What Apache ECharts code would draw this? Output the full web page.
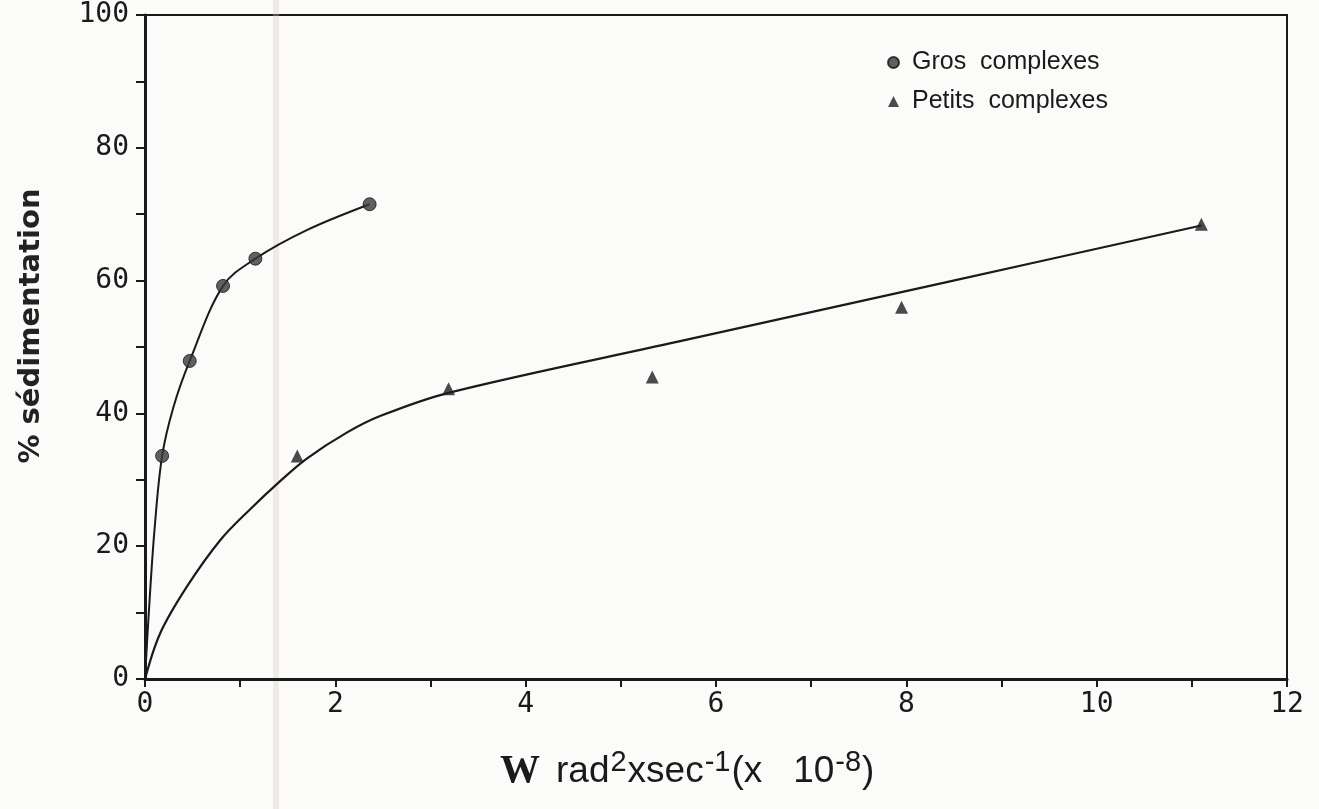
<!DOCTYPE html>
<html>
<head>
<meta charset="utf-8">
<title>% sédimentation</title>
<script src="https://cdn.jsdelivr.net/npm/echarts@6/dist/echarts.min.js"></script>
<style>
  html, body { margin: 0; padding: 0; background: #fbfbf9; }
  #chart { width: 1319px; height: 809px; }
</style>
</head>
<body>
<div id="chart"></div>
<script>
// Measured points: [W (x 10^-8 rad^2 s^-1), % sedimentation]
const grosPoints = [[0.18, 33.6], [0.47, 47.9], [0.82, 59.2], [1.16, 63.3], [2.36, 71.5]];
const petitsPoints = [[1.60, 33.6], [3.19, 43.7], [5.33, 45.5], [7.95, 56.0], [11.10, 68.5]];

// Hand-drawn fitted curves
const grosCurve = [[0, 0], [0.04, 10.0], [0.10, 22.5], [0.18, 33.6], [0.30, 41.0],
  [0.47, 47.9], [0.82, 59.2], [1.16, 63.3], [1.70, 67.6], [2.36, 71.5]];
const petitsCurve = [[0, 0], [0.16, 6.9], [0.44, 13.9], [0.79, 20.9], [1.10, 25.5], [1.42, 29.8],
  [1.70, 33.2], [2.12, 37.1], [2.47, 39.6], [3.19, 43.1], [5.60, 50.8], [8.40, 59.7], [11.10, 68.3]];

const xTicks = [0, 2, 4, 6, 8, 10, 12];
const yTicks = [0, 20, 40, 60, 80, 100];

const ink = '#1a1a1a';
const chart = echarts.init(document.getElementById('chart'), null, { renderer: 'canvas' });

chart.setOption({
  backgroundColor: '#fbfbf9',
  animation: false,
  grid: {
    left: 145, right: 32, top: 15, bottom: 130,
    show: true, borderColor: ink, borderWidth: 2, backgroundColor: 'transparent'
  },
  graphic: [
    {
      // faint vertical band across the sheet
      type: 'rect', silent: true, z: 0,
      shape: { x: 273, y: 0, width: 6, height: 809 },
      style: { fill: 'rgba(215,195,190,0.3)' }
    },
    {
      type: 'text', silent: true, z: 10,
      x: 31, y: 326, rotation: Math.PI / 2,
      style: {
        text: '% sédimentation', align: 'center', verticalAlign: 'middle',
        font: 'bold 29px "DejaVu Sans"', fill: '#222'
      }
    },
    {
      type: 'text', silent: true, z: 10,
      x: 500, y: 795,
      style: {
        text: '{w|W}{t|rad}{s|2}{t|xsec}{s|-1}{t|(x   10}{s|-8}{t|)}',
        verticalAlign: 'bottom',
        rich: {
          w: { fontFamily: 'Liberation Serif', fontWeight: 'bold', fontSize: 40, fill: ink, padding: [0, 16, 0, 0] },
          t: { fontFamily: 'Liberation Sans', fontSize: 37, fill: ink },
          s: { fontFamily: 'Liberation Sans', fontSize: 29, fill: ink, padding: [0, 1, 18, 1] }
        }
      }
    }
  ],
  legend: {
    orient: 'vertical', left: 882, top: 45, itemGap: 14,
    itemWidth: 11, itemHeight: 11,
    textStyle: { fontFamily: 'Liberation Sans', fontSize: 25, color: ink, padding: [0, 0, 0, 8] },
    formatter: name => name.replace(' ', '  '),
    data: [
      { name: 'Gros complexes', icon: 'circle' },
      { name: 'Petits complexes', icon: 'triangle' }
    ]
  },
  xAxis: {
    type: 'value', min: 0, max: 12, interval: 1,
    axisLine: { show: true, lineStyle: { color: ink, width: 3 } },
    axisTick: { show: true, inside: false, length: 8, lineStyle: { color: ink, width: 2 } },
    splitLine: { show: false },
    axisLabel: {
      margin: 12, color: ink, fontFamily: 'DejaVu Sans Mono', fontSize: 28,
      formatter: v => (xTicks.indexOf(v) >= 0 ? String(v) : '')
    }
  },
  yAxis: {
    type: 'value', min: 0, max: 100, interval: 10,
    axisLine: { show: true, lineStyle: { color: ink, width: 3 } },
    axisTick: { show: true, inside: false, length: 9, lineStyle: { color: ink, width: 2 } },
    splitLine: { show: false },
    axisLabel: {
      margin: 16, color: ink, fontFamily: 'DejaVu Sans Mono', fontSize: 28,
      formatter: v => (yTicks.indexOf(v) >= 0 ? String(v) : '')
    }
  },
  series: [
    {
      name: 'Gros complexes curve', type: 'line', data: grosCurve, smooth: 0.35,
      showSymbol: false, lineStyle: { color: ink, width: 2 }, z: 2, silent: true
    },
    {
      name: 'Petits complexes curve', type: 'line', data: petitsCurve, smooth: 0.35,
      showSymbol: false, lineStyle: { color: ink, width: 2.2 }, z: 2, silent: true
    },
    {
      name: 'Gros complexes', type: 'scatter', data: grosPoints, symbol: 'circle', symbolSize: 13,
      itemStyle: { color: '#3a3a3a', borderColor: '#111', borderWidth: 1 }, z: 3
    },
    {
      name: 'Petits complexes', type: 'scatter', data: petitsPoints, symbol: 'triangle', symbolSize: 13,
      itemStyle: { color: '#1e1e1e' }, z: 3
    }
  ]
});
</script>
</body>
</html>
